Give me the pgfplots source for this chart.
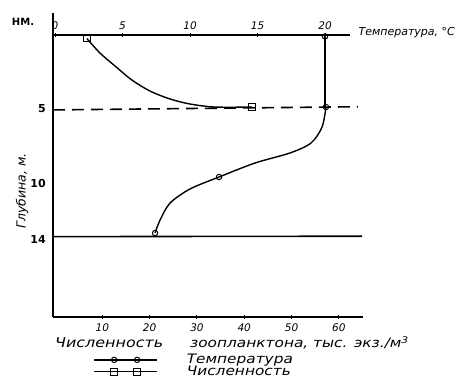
\documentclass[border=0pt]{standalone}
\usepackage{pgfplots}
\pgfplotsset{compat=1.18}
\usepackage{fontspec}
\setmainfont{DejaVu Sans}
\newfontfamily\wide[FakeStretch=1.18]{DejaVu Sans}
\pgfplotsset{legend image code/.code={\draw[mark repeat=2,mark phase=2] plot coordinates {(0pt,0pt)(20pt,0pt)(31pt,0pt)(43pt,0pt)(63pt,0pt)};}}
\begin{document}
\begin{tikzpicture}
\useasboundingbox (0,0) rectangle (459pt,381pt);
\clip (0,0) rectangle (459pt,381pt);
% zooplankton axis (bottom) with depth axis
\begin{axis}[
  at={(53pt,64pt)}, anchor=south west, scale only axis,
  width=310pt, height=304pt,
  xmin=-0.42, xmax=65.1, ymin=-19.58, ymax=1.53,
  axis x line*=bottom, axis y line*=left,
  axis line style={line width=1.8pt},
  xtick={10,20,...,60},
  ytick={-5.1,-10.3,-14.2}, yticklabels={5,10,14},
  ytick style={draw=none},
  xtick style={line width=1pt, black},
  tick align=center, major tick length=3.5pt,
  /pgf/number format/assume math mode=true,
  xticklabel style={font=\fontsize{10.5}{12}\selectfont\itshape, yshift=-1pt},
  yticklabel style={font=\fontsize{11}{12}\selectfont\bfseries, xshift=-2pt},
  clip=false,
  legend style={at={(axis description cs:0.13,-0.119)}, anchor=north west,
    draw=none, fill=none, font=\fontsize{13}{14}\selectfont\wide\itshape,
    row sep=-1pt, inner sep=0pt, nodes={inner sep=1pt}},
  legend cell align=left,
]
\addlegendimage{black, line width=1.3pt, mark=o, mark size=2.7pt, mark options={fill=white, line width=1pt}}
\addlegendentry{\hspace{28pt}Температура}
\addlegendimage{black, line width=1.3pt, mark=square, mark size=3.2pt, mark options={fill=white, line width=1pt}}
\addlegendentry{\hspace{28pt}Численность}
\addplot[black, line width=1.6pt, dash pattern=on 12pt off 7pt, forget plot] coordinates {(-0.42,-5.2) (64,-4.98)};
\addplot[black, line width=1.6pt, forget plot] coordinates {(-0.42,-14.0) (64.9,-13.97)};
\addplot[black, line width=1.4pt, smooth, forget plot] coordinates {(6.77,-0.25) (9.51,-1.25) (12.68,-2.15) (16.28,-3.13) (20.08,-3.89) (24.31,-4.44) (28.54,-4.79) (33.83,-5.0) (41.65,-5.0)};
\addplot[black, only marks, mark=square, mark size=3.2pt, mark options={fill=white, line width=1pt}, forget plot] coordinates {(6.77,-0.25) (41.65,-5.0)};
\end{axis}
% temperature axis (top)
\begin{axis}[
  at={(53pt,64pt)}, anchor=south west, scale only axis,
  width=297pt, height=282pt,
  xmin=-0.15, xmax=21.85, ymin=-19.58, ymax=0,
  axis x line*=top, axis y line=none,
  axis line style={line width=1.8pt},
  xtick={0,5,...,20},
  xtick style={line width=1pt, black},
  tick align=center, major tick length=3.5pt,
  /pgf/number format/assume math mode=true,
  xticklabel style={font=\fontsize{10.5}{12}\selectfont\itshape},
  clip=false,
]
\addplot[black, line width=1.4pt] coordinates {(20,-0.1) (20,-5.0)};
\addplot[black, line width=1.4pt, smooth] coordinates {(20.07,-5.0) (19.78,-6.39) (18.96,-7.5) (17.41,-8.19) (14.81,-8.89) (12.15,-9.86) (10.0,-10.69) (8.52,-11.67) (7.78,-12.85) (7.41,-13.75)};
\addplot[black, only marks, mark=o, mark size=2.7pt, mark options={fill=white, line width=1pt}] coordinates {(20,-0.1) (20.07,-5.0) (12.15,-9.86) (7.41,-13.75)};
\end{axis}
\node[font=\fontsize{10}{12}\selectfont\bfseries] at (23pt,359pt) {НМ.};
\node[font=\fontsize{11}{12}\selectfont\itshape, anchor=west] at (355pt,348pt) {Температура, °С};
\node[font=\fontsize{12.5}{14}\selectfont\itshape, rotate=90] at (22pt,190pt) {Глубина, м.};
\node[font=\fontsize{13.5}{15}\selectfont\wide\itshape, anchor=west, inner sep=0pt] at (55pt,38pt) {Численность};
\node[font=\fontsize{13}{15}\selectfont\wide\itshape, anchor=west, inner sep=0pt] at (190pt,38pt) {зоопланктона, тыс. экз./м\textsuperscript{3}};
\end{tikzpicture}
\end{document}
